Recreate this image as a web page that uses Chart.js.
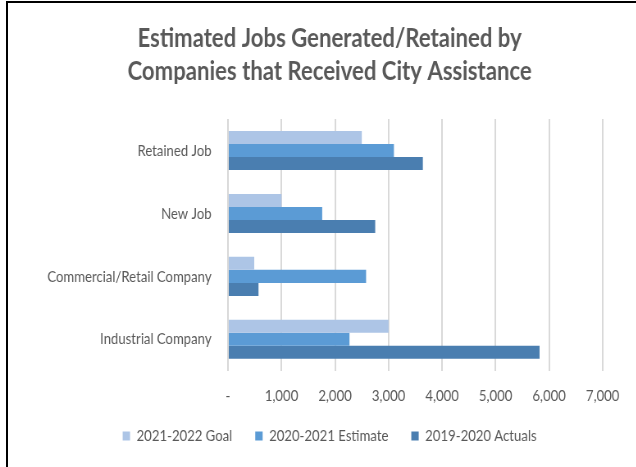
<!DOCTYPE html>
<html>
<head>
<meta charset="utf-8">
<script src="https://cdn.jsdelivr.net/npm/chart.js@4"></script>
<style>
  html, body { margin: 0; padding: 0; background: #fff; }
  #wrap { position: relative; width: 636px; height: 467px; overflow: hidden; }
  #frame { position: absolute; left: 6px; top: 1px; right: -10px; bottom: -10px; border-left: 2px solid #000; border-top: 2px solid #000; pointer-events: none; }
  /* the reference is squeezed sideways, so the chart is drawn wider and scaled down */
  #jobsChart { position: absolute; left: 0; top: 0; transform: scaleX(0.82); transform-origin: 0 0; }
</style>
</head>
<body>
<div id="wrap">
  <canvas id="jobsChart" width="776" height="467"></canvas>
  <div id="frame"></div>
</div>
<script>
const categories = ['Retained Job', 'New Job', 'Commercial/Retail Company', 'Industrial Company'];
const seriesNames = ['2021-2022 Goal', '2020-2021 Estimate', '2019-2020 Actuals'];
const goal2122 = [2500, 1000, 490, 3000];
const estimate2021 = [3100, 1760, 2580, 2270];
const actuals1920 = [3640, 2750, 570, 5820];
const xTicks = [0, 1000, 2000, 3000, 4000, 5000, 6000, 7000];
const colors = ['#adc5e6', '#5b9bd5', '#4a7eb0'];

const textGray = '#595959';
const LEGEND_TRIM = 7, LEGEND_LIFT = 20, CENTER_SHIFT = 8;

// legend keeps wide gaps between items but sits closer to the axis;
// title and legend are centred a little right of the plot like the original
const nudge = {
    id: 'nudge',
    beforeLayout(chart) {
        const lg = chart.legend;
        if (lg && !lg._trimmed) {
            const fit = lg.fit;
            lg.fit = function () { fit.call(this); this.height -= LEGEND_TRIM; };
            lg._trimmed = true;
        }
    },
    afterLayout(chart) {
        const lg = chart.legend, tb = chart.titleBlock;
        lg.top -= LEGEND_LIFT; lg.bottom -= LEGEND_LIFT;
        lg.left += CENTER_SHIFT; lg.right += CENTER_SHIFT;
        if (tb) { tb.left += CENTER_SHIFT; tb.right += CENTER_SHIFT; }
    }
};

const ctx = document.getElementById('jobsChart').getContext('2d');
new Chart(ctx, {
    type: 'bar',
    data: {
        labels: categories,
        datasets: [goal2122, estimate2021, actuals1920].map((d, i) => ({
            label: seriesNames[i], data: d, backgroundColor: colors[i],
            categoryPercentage: 0.62, barPercentage: 1.0
        }))
    },
    options: {
        indexAxis: 'y',
        responsive: false,
        animation: false,
        layout: { padding: { left: 53, right: 41, top: 0, bottom: 0 } },
        plugins: {
            title: {
                display: true,
                text: ['Estimated Jobs Generated/Retained by', 'Companies that Received City Assistance'],
                color: textGray,
                font: { family: 'Lato', size: 27, weight: 'bold', lineHeight: 1.222 },
                padding: { top: 22, bottom: 31 }
            },
            legend: {
                position: 'bottom',
                labels: { color: textGray, boxWidth: 9, boxHeight: 9, padding: 28, font: { family: 'Lato', size: 16 } }
            },
            tooltip: { enabled: false }
        },
        scales: {
            x: {
                min: 0, max: 7000,
                afterBuildTicks: s => { s.ticks = xTicks.map(v => ({ value: v })); },
                grid: { color: '#d9d9d9', lineWidth: 2, drawTicks: false },
                border: { display: false },
                ticks: {
                    color: textGray, padding: 15, font: { family: 'Lato', size: 16 },
                    callback: v => v === 0 ? '-' : v.toLocaleString('en-US')
                }
            },
            y: {
                grid: { display: false },
                border: { display: false },
                afterFit: s => { s.width = 225; },
                ticks: { color: textGray, padding: 12, font: { family: 'Lato', size: 16 } }
            }
        }
    },
    plugins: [nudge]
});
</script>
</body>
</html>
